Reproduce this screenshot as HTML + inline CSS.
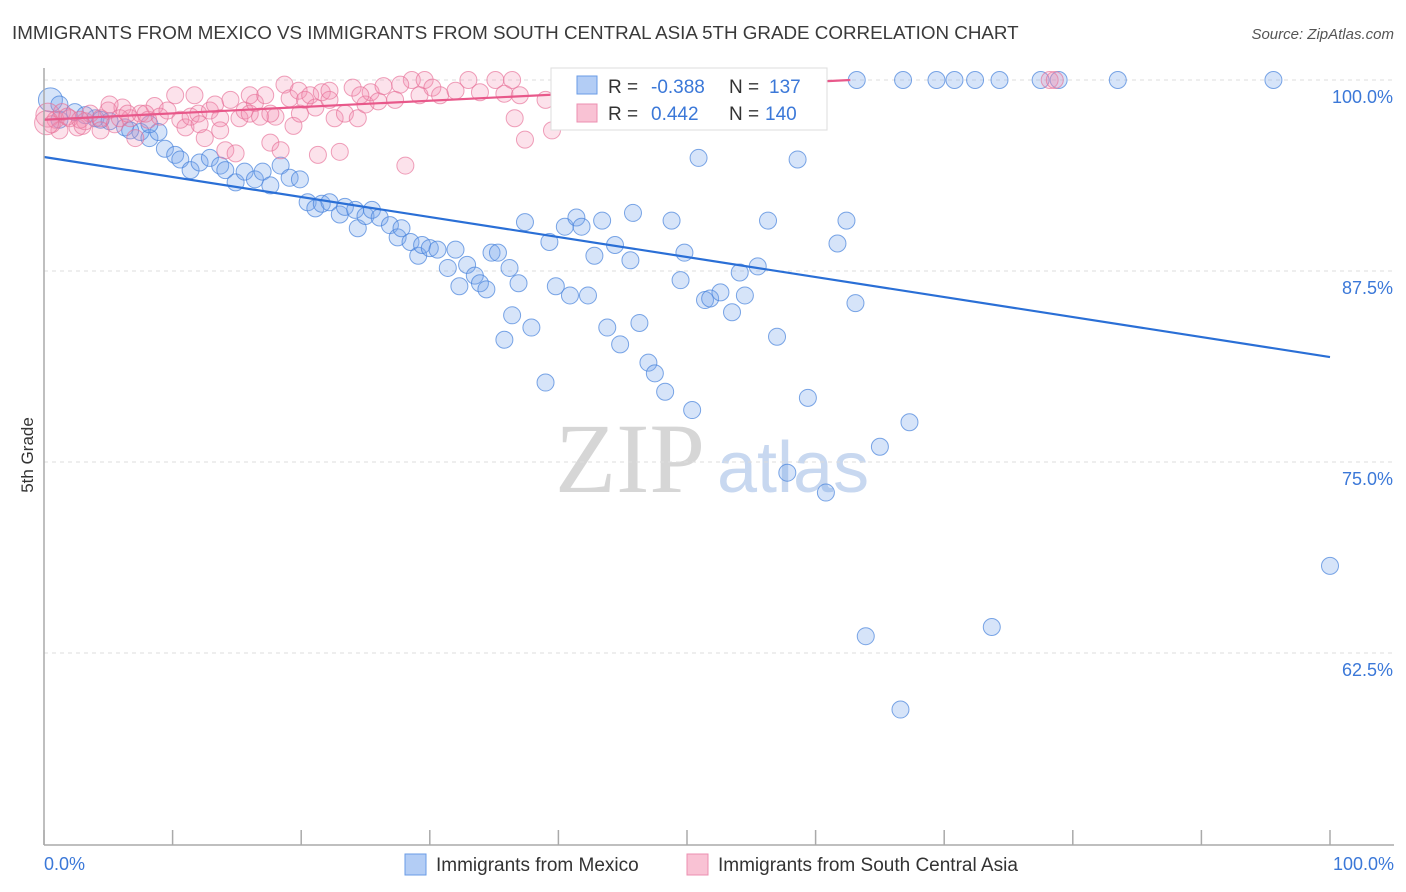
<!DOCTYPE html>
<html><head><meta charset="utf-8"><style>
body{margin:0;background:#fff;font-family:"Liberation Sans",sans-serif}
svg{display:block}
</style></head><body>
<svg id="chart" width="1406" height="892">
<text x="12" y="39" font-size="18.8" fill="#3a3a3a">IMMIGRANTS FROM MEXICO VS IMMIGRANTS FROM SOUTH CENTRAL ASIA 5TH GRADE CORRELATION CHART</text>
<text x="1394" y="39" font-size="15" fill="#555" font-style="italic" text-anchor="end">Source: ZipAtlas.com</text>
<text x="33" y="455" font-size="17" fill="#333" text-anchor="middle" transform="rotate(-90 33 455)">5th Grade</text>
<text x="555" y="492" font-size="100" fill="#d6d6d6" font-family="Liberation Serif,serif">ZIP</text>
<text x="717" y="492" font-size="72" fill="#c8d8f0">atlas</text>
<g id="grid"></g><g id="pts"></g><g id="trend"></g>
<line x1="44" y1="68" x2="44" y2="845" stroke="#aaa" stroke-width="1.5"/>
<line x1="44" y1="845" x2="1394" y2="845" stroke="#aaa" stroke-width="1.5"/>
<text x="44" y="870" font-size="18" fill="#3b78d8">0.0%</text>
<text x="1394" y="870" font-size="18" fill="#3b78d8" text-anchor="end">100.0%</text>
<g>
<rect x="551" y="68" width="276" height="62" fill="#fff" stroke="#ddd"/>
<rect x="577" y="76" width="20" height="18" fill="#b3cdf5" stroke="#6a9be6"/>
<rect x="577" y="104" width="20" height="18" fill="#f9c2d4" stroke="#ec8fb0"/>
<text x="608" y="93" font-size="19" fill="#333">R =</text>
<text x="651" y="93" font-size="19" fill="#3b78d8">-0.388</text>
<text x="729" y="93" font-size="19" fill="#333">N =</text>
<text x="769" y="93" font-size="19" fill="#3b78d8">137</text>
<text x="608" y="120" font-size="19" fill="#333">R =</text>
<text x="651" y="120" font-size="19" fill="#3b78d8">0.442</text>
<text x="729" y="120" font-size="19" fill="#333">N =</text>
<text x="765" y="120" font-size="19" fill="#3b78d8">140</text>
</g>
<g>
<rect x="405" y="854" width="21" height="21" fill="#b3cdf5" stroke="#6a9be6"/>
<text x="436" y="871" font-size="19" fill="#333">Immigrants from Mexico</text>
<rect x="687" y="854" width="21" height="21" fill="#f9c2d4" stroke="#ec8fb0"/>
<text x="718" y="871" font-size="19" fill="#333">Immigrants from South Central Asia</text>
</g>
</svg>
<script>
const yTicks=[100,87.5,75,62.5];
const yTickLabels=["100.0%","87.5%","75.0%","62.5%"];
const xTicks=[0,10,20,30,40,50,60,70,80,90,100];
const mexX=[0.5,1.2,2.4,4.0,5.1,6.3,7.5,8.2,8.9,9.4,10.2,10.6,11.4,12.1,12.9,13.7,14.1,14.9,15.6,16.4,17.0,17.6,18.4,19.1,19.9,20.5,21.1,21.6,22.2,23.0,23.4,24.2,24.4,25.0,25.5,26.1,26.9,27.5,27.8,28.5,29.1,29.4,30.0,30.6,31.4,32.0,32.3,32.9,33.5,33.9,34.4,34.8,35.3,35.8,36.2,36.4,36.9,37.4,37.9,39.0,39.3,39.8,40.5,40.9,41.4,41.8,42.3,42.8,43.4,43.8,44.4,44.8,45.6,45.8,46.3,47.0,47.5,48.3,48.8,49.5,49.8,50.4,50.9,51.4,51.8,52.6,53.5,54.1,54.5,55.5,56.3,57.0,57.8,58.6,59.4,60.8,61.7,62.4,63.1,63.9,65.0,66.6,67.3,73.7,100,47.7,52.6,54.9,60.0,63.2,66.8,69.4,70.8,72.4,74.3,77.5,78.9,83.5,95.6,1.2,3.2,4.4,6.7,8.2];
const mexY=[98.7,98.4,97.9,97.5,97.3,96.9,96.6,96.2,96.6,95.5,95.1,94.8,94.1,94.6,94.9,94.4,94.1,93.3,94.0,93.5,94.0,93.1,94.4,93.6,93.5,92.0,91.6,91.9,92.0,91.2,91.7,91.5,90.3,91.1,91.5,91.0,90.5,89.7,90.3,89.4,88.5,89.2,89.0,88.9,87.7,88.9,86.5,87.9,87.2,86.7,86.3,88.7,88.7,83.0,87.7,84.6,86.7,90.7,83.8,80.2,89.4,86.5,90.4,85.9,91.0,90.4,85.9,88.5,90.8,83.8,89.2,82.7,88.2,91.3,84.1,81.5,80.8,79.6,90.8,86.9,88.7,78.4,94.9,85.6,85.7,86.1,84.8,87.4,85.9,87.8,90.8,83.2,74.3,94.8,79.2,73.0,89.3,90.8,85.4,63.6,76.0,58.8,77.6,64.2,68.2,100,100,100,100,100,100,100,100,100,100,100,100,100,100,97.4,97.7,97.4,96.7,97.1];
const scaX=[0.3,0.9,1.4,2.0,2.6,3.2,3.6,4.4,5.0,5.5,6.1,6.7,7.1,7.5,8.1,8.6,9.0,9.6,10.2,10.6,11.0,11.4,12.0,12.5,12.9,13.3,13.7,14.1,14.5,14.9,15.2,15.6,16.0,16.4,16.8,17.2,17.6,18.0,18.4,18.7,19.1,19.4,19.8,20.3,20.7,21.1,21.3,21.6,22.2,22.6,23.0,23.4,24.0,24.4,25.0,25.4,26.0,26.4,27.3,28.1,28.6,29.2,29.6,30.2,30.8,32.0,33.0,33.9,35.1,35.8,36.4,36.6,37.0,37.4,39.0,39.5,78.2,78.6,27.7,24.6,19.9,16.0,11.7,7.9,5.1,2.8,1.2,0.6,4.4,5.9,13.7,12.1,17.6,22.2,0.2,1.8,3.0,6.5];
const scaY=[97.7,97.4,97.9,97.5,96.9,97.3,97.8,97.5,98.0,97.1,98.2,97.5,96.2,97.8,97.4,98.3,97.6,98.0,99.0,97.4,96.9,97.6,97.8,96.2,98.0,98.4,97.5,95.4,98.7,95.2,97.5,98.0,97.8,98.5,97.6,99.0,95.9,97.6,95.4,99.7,98.8,97.0,99.3,98.7,99.0,98.2,95.1,99.2,98.7,97.5,95.3,97.8,99.5,97.5,98.4,99.2,98.6,99.6,98.7,94.4,100,99.0,100,99.5,99.0,99.3,100,99.2,100,99.1,100,97.5,99.0,96.1,98.7,96.7,100,100,99.7,99.0,97.8,99.0,99.0,97.8,98.4,97.4,96.7,97.1,96.7,97.5,96.7,97.1,97.8,99.3,97.2,97.6,97.0,97.8];
const mexTrend=[[0,94.96],[100,81.87]];
const scaTrend=[[0,97.4],[62.7,100]];
const X=v=>44+v*12.86, Y=v=>80+(100-v)*15.28;
const NS="http://www.w3.org/2000/svg";
function mk(tag,attrs,parent){const e=document.createElementNS(NS,tag);for(const k in attrs)e.setAttribute(k,attrs[k]);parent.appendChild(e);return e;}
const grid=document.getElementById('grid'),pts=document.getElementById('pts'),tr=document.getElementById('trend');
yTicks.forEach((t,i)=>{
 const l=mk('line',{x1:44,x2:1394,y1:Y(t),y2:Y(t),stroke:'#ddd','stroke-dasharray':'4,4'},grid);
 
 
 const tx=mk('text',{x:1393,y:Y(t)+23,'font-size':18,fill:'#3b78d8','text-anchor':'end'},grid);
 tx.textContent=yTickLabels[i];
 
 
});
xTicks.forEach(t=>{
 const l=mk('line',{x1:X(t),x2:X(t),y1:830,y2:845,stroke:'#aaa','stroke-width':1.5},grid);
 
 
});
mexX.forEach((x,i)=>{
 const c=mk('circle',{cx:X(x),cy:Y(mexY[i]),r:i===0?12:8.5,fill:'rgba(120,165,235,0.3)',stroke:'rgba(70,130,220,0.7)','stroke-width':1},pts);
 
 
});
scaX.forEach((x,i)=>{
 const c=mk('circle',{cx:X(x),cy:Y(scaY[i]),r:i===0||i===94?12:8.5,fill:'rgba(244,140,175,0.25)',stroke:'rgba(230,110,150,0.65)','stroke-width':1},pts);
 
 
});
const l1=mk('line',{x1:X(mexTrend[0][0]),y1:Y(mexTrend[0][1]),x2:X(mexTrend[1][0]),y2:Y(mexTrend[1][1]),stroke:'#2a6fd6','stroke-width':2.2},tr);


const l2=mk('line',{x1:X(scaTrend[0][0]),y1:Y(scaTrend[0][1]),x2:X(scaTrend[1][0]),y2:Y(scaTrend[1][1]),stroke:'#e8588a','stroke-width':2.2},tr);


</script>
</body></html>
